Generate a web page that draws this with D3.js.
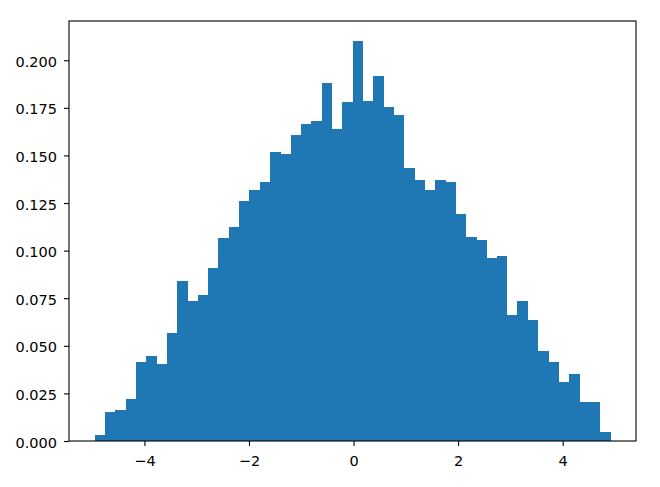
<!DOCTYPE html>
<html>
<head>
<meta charset="utf-8">
<script src="https://cdn.jsdelivr.net/npm/d3@7"></script>
<style>
  body { margin: 0; background: #fff; }
  svg text { font-family: "DejaVu Sans", sans-serif; fill: #000; }
</style>
</head>
<body>
<script>
// histogram (density): 50 equal bins
var dataMin = -4.95;
var dataMax = 4.91;
var binCount = 50;
var densities = [
  0.0029, 0.0152, 0.0162, 0.0223, 0.0414, 0.0445, 0.0403, 0.0569, 0.0838, 0.0736,
  0.0766, 0.0907, 0.1068, 0.1124, 0.1260, 0.1319, 0.1361, 0.1516, 0.1506, 0.1607,
  0.1665, 0.1679, 0.1881, 0.1639, 0.1780, 0.2101, 0.1785, 0.1916, 0.1754, 0.1714,
  0.1435, 0.1373, 0.1321, 0.1373, 0.1361, 0.1190, 0.1070, 0.1058, 0.0963, 0.0970,
  0.0663, 0.0735, 0.0635, 0.0473, 0.0414, 0.0312, 0.0354, 0.0204, 0.0204, 0.0049
];
var xTicks = [-4, -2, 0, 2, 4];
var yTicks = [0, 0.025, 0.05, 0.075, 0.1, 0.125, 0.15, 0.175, 0.2];

var width = 660, height = 487;
var margin = { top: 21, right: 24, bottom: 46, left: 69 };
var innerW = width - margin.left - margin.right;
var innerH = height - margin.top - margin.bottom;

var binWidth = (dataMax - dataMin) / binCount;
var bins = densities.map(function(d, i) {
  return { x0: dataMin + i * binWidth, x1: dataMin + (i + 1) * binWidth, value: d };
});

// matplotlib-style 5% margins on x, top margin on y
var span = dataMax - dataMin;
var x = d3.scaleLinear()
    .domain([dataMin - 0.05 * span, dataMax + 0.05 * span])
    .range([0, innerW]);
var y = d3.scaleLinear()
    .domain([0, d3.max(densities) * 1.05])
    .range([innerH, 0]);

var svg = d3.select('body').append('svg')
    .attr('width', width)
    .attr('height', height);

var g = svg.append('g')
    .attr('transform', 'translate(' + margin.left + ',' + margin.top + ')');

g.selectAll('rect.bar')
    .data(bins)
    .enter()
    .append('rect')
    .attr('class', 'bar')
    .attr('x', function(d) { return x(d.x0); })
    .attr('width', function(d) { return x(d.x1) - x(d.x0) + 0.3; })
    .attr('y', function(d) { return y(d.value); })
    .attr('height', function(d) { return innerH - y(d.value); })
    .attr('fill', '#1f77b4')
    .attr('shape-rendering', 'crispEdges');

var xAxis = d3.axisBottom(x)
    .tickValues(xTicks)
    .tickSize(5)
    .tickPadding(9.5)
    .tickFormat(function(d) { return d < 0 ? '\u2212' + Math.abs(d) : String(d); });

var yAxis = d3.axisLeft(y)
    .tickValues(yTicks)
    .tickSize(5)
    .tickPadding(7)
    .tickFormat(d3.format('.3f'));

var gx = g.append('g')
    .attr('transform', 'translate(0,' + innerH + ')')
    .call(xAxis);
var gy = g.append('g').call(yAxis);

[gx, gy].forEach(function(a) {
  a.select('.domain').remove();
  a.selectAll('.tick line').attr('stroke', '#000').attr('stroke-width', 1.1);
  a.selectAll('.tick text')
      .style('font-size', '14.5px')
      .style('font-family', '"DejaVu Sans", sans-serif')
      .attr('fill', '#000');
});
gy.selectAll('.tick text').attr('dy', '0.42em');

// frame
g.append('rect')
    .attr('x', 0)
    .attr('y', 0)
    .attr('width', innerW)
    .attr('height', innerH)
    .attr('fill', 'none')
    .attr('stroke', '#000')
    .attr('stroke-width', 1.1);
</script>
</body>
</html>
